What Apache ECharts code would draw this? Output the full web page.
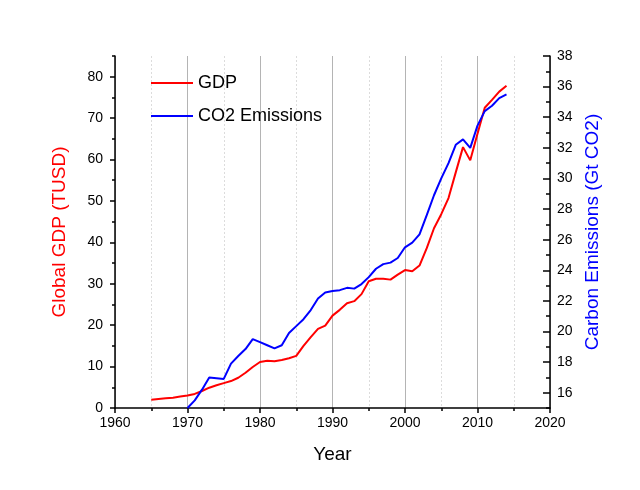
<!DOCTYPE html>
<html>
<head>
<meta charset="utf-8">
<script src="https://cdn.jsdelivr.net/npm/echarts@6/dist/echarts.min.js"></script>
<style>html,body{margin:0;padding:0;background:#fff;}#c{width:640px;height:490px;}</style>
</head>
<body>
<div id="c"></div>
<script>
var gdpYears = [];
for (var y = 1965; y <= 2014; y++) gdpYears.push(y);
var gdpValues = [2.0, 2.2, 2.35, 2.5, 2.75, 3.0, 3.4, 4.1, 4.9, 5.5,
  6.0, 6.5, 7.3, 8.5, 9.9, 11.1, 11.4, 11.3, 11.6, 12.0,
  12.6, 15.0, 17.1, 19.1, 19.9, 22.3, 23.7, 25.3, 25.8, 27.5,
  30.6, 31.2, 31.2, 31.0, 32.2, 33.3, 33.0, 34.4, 38.6, 43.4,
  46.8, 50.7, 56.9, 63.0, 59.8, 66.2, 72.5, 74.4, 76.4, 77.8];
var co2Years = [];
for (var y2 = 1970; y2 <= 2014; y2++) co2Years.push(y2);
var co2Values = [15.0, 15.5, 16.2, 17.0, 16.95, 16.9, 17.9, 18.4, 18.85, 19.5,
  19.3, 19.1, 18.9, 19.1, 19.9, 20.35, 20.8, 21.4, 22.15, 22.55,
  22.65, 22.7, 22.85, 22.8, 23.1, 23.55, 24.1, 24.4, 24.5, 24.8,
  25.5, 25.8, 26.35, 27.6, 28.9, 30.0, 31.0, 32.2, 32.55, 32.0,
  33.45, 34.4, 34.75, 35.25, 35.5];
var gdpTicks = [0, 10, 20, 30, 40, 50, 60, 70, 80];
var gdpMinorTicks = [5, 15, 25, 35, 45, 55, 65, 75, 85];
var co2Ticks = [16, 18, 20, 22, 24, 26, 28, 30, 32, 34, 36, 38];
var co2MinorTicks = [15, 17, 19, 21, 23, 25, 27, 29, 31, 33, 35, 37];

var FONT = '"Liberation Sans", Arial, sans-serif';
function zip(a, b) { return a.map(function (v, i) { return [v, b[i]]; }); }

var chart = echarts.init(document.getElementById('c'));
var axisLineStyle = { color: '#000', width: 1.5 };
chart.setOption({
  animation: false,
  backgroundColor: '#fff',
  textStyle: { fontFamily: FONT },
  grid: { left: 115, right: 90, top: 56, bottom: 82 },
  legend: {
    orient: 'vertical', left: 151, top: 73, itemGap: 13, padding: 0,
    itemWidth: 42, itemHeight: 2, icon: 'rect',
    textStyle: { fontSize: 18, color: '#000', fontFamily: FONT, lineHeight: 20 },
    data: ['GDP', 'CO2 Emissions']
  },
  xAxis: {
    type: 'value', min: 1960, max: 2020, interval: 10,
    name: 'Year', nameLocation: 'middle', nameGap: 37,
    nameTextStyle: { fontSize: 19, color: '#000', fontFamily: FONT },
    axisLine: { lineStyle: axisLineStyle },
    axisTick: { length: 5, lineStyle: { color: '#000', width: 1.5 } },
    minorTick: { show: true, splitNumber: 2, length: 3, lineStyle: { color: '#000', width: 1.5 } },
    axisLabel: { fontSize: 14, color: '#000', margin: 8, fontFamily: FONT,
      formatter: function (v) { return String(v); } },
    splitLine: { show: true, lineStyle: { color: '#b4b4b4', width: 1 } },
    minorSplitLine: { show: true, lineStyle: { color: '#dcdcdc', width: 1, type: [2, 2] } }
  },
  yAxis: [
    {
      type: 'value', position: 'left', min: 0, max: 85,
      name: 'Global GDP (TUSD)', nameLocation: 'middle', nameGap: 46,
      nameTextStyle: { fontSize: 19, color: '#ff0000', fontFamily: FONT },
      axisLine: { show: true, lineStyle: axisLineStyle },
      axisTick: { show: true, length: 5, customValues: gdpTicks, lineStyle: { color: '#000', width: 1.5 } },
      axisLabel: { fontSize: 14, color: '#000', margin: 12, customValues: gdpTicks, fontFamily: FONT },
      splitLine: { show: false }
    },
    {
      type: 'value', position: 'right', min: 15, max: 38,
      name: 'Carbon Emissions (Gt CO2)', nameLocation: 'middle', nameGap: 33,
      nameTextStyle: { fontSize: 19, color: '#0000ff', fontFamily: FONT },
      axisLine: { show: true, lineStyle: axisLineStyle },
      axisTick: { show: true, inside: true, length: 7, customValues: co2Ticks, lineStyle: { color: '#000', width: 1.5 } },
      axisLabel: { fontSize: 14, color: '#000', margin: 7, customValues: co2Ticks, fontFamily: FONT },
      splitLine: { show: false }
    },
    {
      type: 'value', position: 'left', min: 0, max: 85,
      axisLine: { show: false },
      axisTick: { show: true, length: 3, customValues: gdpMinorTicks, lineStyle: { color: '#000', width: 1.5 } },
      axisLabel: { show: false },
      splitLine: { show: false }
    },
    {
      type: 'value', position: 'right', min: 15, max: 38,
      axisLine: { show: false },
      axisTick: { show: true, inside: true, length: 4, customValues: co2MinorTicks, lineStyle: { color: '#000', width: 1.5 } },
      axisLabel: { show: false },
      splitLine: { show: false }
    }
  ],
  series: [
    {
      name: 'GDP', type: 'line', yAxisIndex: 0, data: zip(gdpYears, gdpValues),
      showSymbol: false, symbol: 'none', lineStyle: { color: '#ff0000', width: 2 },
      itemStyle: { color: '#ff0000' }
    },
    {
      name: 'CO2 Emissions', type: 'line', yAxisIndex: 1, data: zip(co2Years, co2Values),
      showSymbol: false, symbol: 'none', lineStyle: { color: '#0000ff', width: 2 },
      itemStyle: { color: '#0000ff' }
    }
  ]
});
</script>
</body>
</html>
